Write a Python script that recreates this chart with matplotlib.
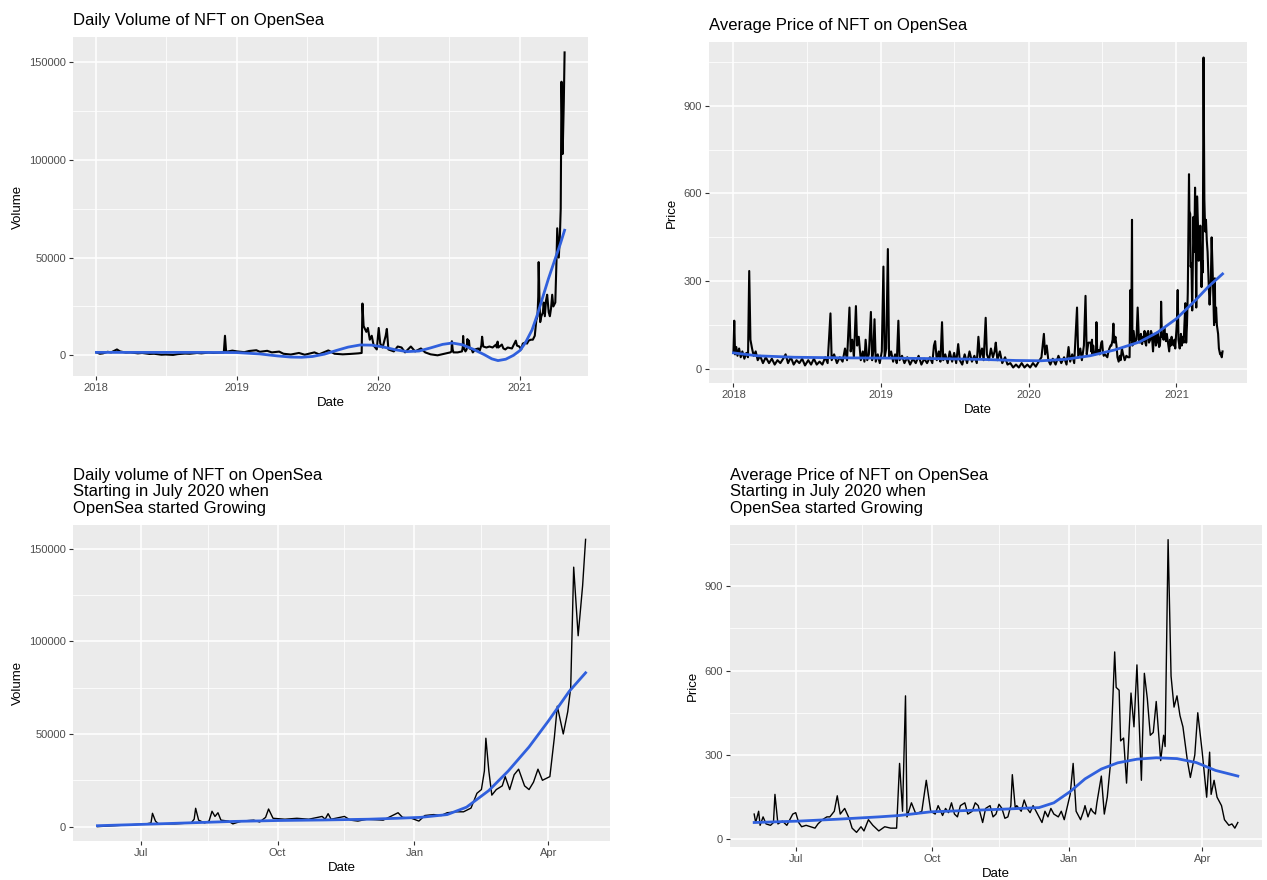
import matplotlib
matplotlib.use("Agg")
import matplotlib.pyplot as plt
import matplotlib.dates as mdates
from matplotlib.ticker import MultipleLocator, FuncFormatter
import pandas as pd

plt.rcParams['font.family'] = ['Liberation Sans', 'DejaVu Sans']

# --- daily volume, Jan 2018 - May 2020
vol_early_dates = ['2018-01-03', '2018-01-12', '2018-01-20', '2018-02-01', '2018-02-10',
                   '2018-02-25', '2018-03-05', '2018-03-20', '2018-04-01', '2018-04-20',
                   '2018-05-01', '2018-05-20', '2018-06-01', '2018-06-20', '2018-07-01',
                   '2018-07-20', '2018-08-01', '2018-08-20', '2018-09-01', '2018-09-20',
                   '2018-10-01', '2018-10-20', '2018-11-01', '2018-11-28', '2018-12-01',
                   '2018-12-04', '2018-12-20', '2019-01-01', '2019-01-20', '2019-02-01',
                   '2019-02-20', '2019-03-01', '2019-03-20', '2019-04-01', '2019-04-20',
                   '2019-05-01', '2019-05-20', '2019-06-10', '2019-06-25', '2019-07-01',
                   '2019-07-20', '2019-08-01', '2019-08-25', '2019-09-10', '2019-10-01',
                   '2019-10-20', '2019-11-10', '2019-11-19', '2019-11-21', '2019-11-24',
                   '2019-12-01', '2019-12-05', '2019-12-10', '2019-12-15', '2019-12-20',
                   '2019-12-28', '2020-01-02', '2020-01-06', '2020-01-12', '2020-01-20',
                   '2020-01-23', '2020-01-27', '2020-02-10', '2020-02-20', '2020-03-01',
                   '2020-03-10', '2020-03-25', '2020-04-05', '2020-04-20', '2020-05-01',
                   '2020-05-15']
vol_early = [1500, 800, 1000, 1800, 1500,
             3000, 2000, 1400, 1500, 1000,
             1200, 700, 800, 300, 400,
             200, 600, 900, 800, 1200,
             1000, 1400, 1200, 1500, 10000,
             1800, 2400, 2000, 1600, 2200,
             2600, 1800, 2300, 1500, 1900,
             800, 400, 1200, 300, 600,
             1500, 500, 2500, 800, 500,
             700, 1000, 1200, 26500, 15000,
             12000, 14000, 8000, 10000, 5000,
             3000, 14000, 6000, 4000, 10000,
             13500, 3000, 2000, 4500, 4000,
             1500, 4500, 2000, 3500, 1500,
             500]

# --- daily volume, June 2020 - April 2021
vol_recent_dates = ['2020-06-02', '2020-06-13', '2020-06-24', '2020-07-05', '2020-07-08',
                    '2020-07-09', '2020-07-11', '2020-07-13', '2020-07-24', '2020-08-04',
                    '2020-08-06', '2020-08-07', '2020-08-09', '2020-08-13', '2020-08-16',
                    '2020-08-18', '2020-08-20', '2020-08-22', '2020-08-24', '2020-08-29',
                    '2020-09-01', '2020-09-07', '2020-09-15', '2020-09-19', '2020-09-23',
                    '2020-09-25', '2020-09-28', '2020-10-06', '2020-10-14', '2020-10-22',
                    '2020-10-31', '2020-11-02', '2020-11-04', '2020-11-06', '2020-11-15',
                    '2020-11-19', '2020-11-24', '2020-11-30', '2020-12-11', '2020-12-16',
                    '2020-12-21', '2020-12-24', '2020-12-30', '2021-01-04', '2021-01-08',
                    '2021-01-14', '2021-01-19', '2021-01-23', '2021-01-29', '2021-02-03',
                    '2021-02-08', '2021-02-12', '2021-02-15', '2021-02-17', '2021-02-18',
                    '2021-02-20', '2021-02-22', '2021-02-25', '2021-03-01', '2021-03-03',
                    '2021-03-06', '2021-03-09', '2021-03-12', '2021-03-16', '2021-03-19',
                    '2021-03-22', '2021-03-25', '2021-03-28', '2021-04-02', '2021-04-05',
                    '2021-04-07', '2021-04-11', '2021-04-14', '2021-04-16', '2021-04-18',
                    '2021-04-21', '2021-04-24', '2021-04-26']
vol_recent = [0, 500, 1000, 1500, 2000,
              7200, 3000, 1500, 1500, 2000,
              4000, 9900, 3500, 2000, 3000,
              8300, 5500, 7500, 3500, 3000,
              1500, 3000, 3500, 2500, 5000,
              9500, 4500, 4000, 4500, 4000,
              5500, 4000, 7000, 4000, 5500,
              3500, 3000, 4000, 3500, 5500,
              7500, 5000, 4500, 3000, 6000,
              6500, 6000, 7500, 8000, 8000,
              10000, 18000, 20000, 30000, 47700,
              30000, 17000, 20000, 22000, 27000,
              20000, 28000, 31000, 22000, 20000,
              24000, 31000, 25000, 27000, 48000,
              65000, 50000, 62000, 75000, 140000,
              103000, 130000, 155000]

# --- loess fits for volume
vol_fit_all_dates = ['2018-01-03', '2018-04-01', '2018-07-01', '2018-10-01', '2019-01-01',
                     '2019-03-01', '2019-04-15', '2019-05-20', '2019-06-17', '2019-07-15',
                     '2019-08-15', '2019-09-15', '2019-10-15', '2019-11-15', '2019-12-15',
                     '2020-01-15', '2020-02-15', '2020-03-15', '2020-04-15', '2020-05-15',
                     '2020-06-15', '2020-07-10', '2020-08-05', '2020-09-01', '2020-10-01',
                     '2020-10-20', '2020-11-05', '2020-11-25', '2020-12-15', '2021-01-01',
                     '2021-01-15', '2021-02-01', '2021-02-15', '2021-03-01', '2021-03-15',
                     '2021-04-01', '2021-04-15', '2021-04-26']
vol_fit_all = [1500, 1500, 1500, 1500, 1400,
               700, -300, -900, -1000, -600,
               600, 2500, 4200, 5300, 5200,
               4200, 2800, 1900, 2200, 3800,
               5600, 6300, 5400, 3200, 300,
               -1800, -2700, -2000, 0, 2500,
               6500, 13000, 21000, 30000, 39000,
               49000, 57000, 64000]
vol_fit_recent_dates = ['2020-06-02', '2020-07-01', '2020-08-01', '2020-09-01', '2020-10-01',
                        '2020-11-01', '2020-12-01', '2020-12-20', '2021-01-05', '2021-01-23',
                        '2021-02-05', '2021-02-20', '2021-03-05', '2021-03-19', '2021-04-01',
                        '2021-04-15', '2021-04-26']
vol_fit_recent = [500, 1200, 2000, 2800, 3300,
                  3600, 4000, 4500, 5000, 6500,
                  10500, 19500, 30000, 43000, 57000,
                  73000, 83000]

# --- average price, Jan 2018 - May 2020
price_early_dates = ['2018-01-01', '2018-01-03', '2018-01-05', '2018-01-08', '2018-01-11',
                     '2018-01-15', '2018-01-19', '2018-01-23', '2018-01-28', '2018-02-02',
                     '2018-02-06', '2018-02-09', '2018-02-12', '2018-02-16', '2018-02-20',
                     '2018-02-25', '2018-03-02', '2018-03-08', '2018-03-15', '2018-03-22',
                     '2018-03-30', '2018-04-06', '2018-04-13', '2018-04-20', '2018-04-27',
                     '2018-05-04', '2018-05-10', '2018-05-16', '2018-05-23', '2018-05-30',
                     '2018-06-06', '2018-06-13', '2018-06-20', '2018-06-27', '2018-07-05',
                     '2018-07-12', '2018-07-19', '2018-07-26', '2018-08-02', '2018-08-09',
                     '2018-08-16', '2018-08-22', '2018-08-29', '2018-09-01', '2018-09-07',
                     '2018-09-14', '2018-09-21', '2018-09-28', '2018-10-04', '2018-10-09',
                     '2018-10-15', '2018-10-18', '2018-10-22', '2018-10-26', '2018-10-31',
                     '2018-11-03', '2018-11-07', '2018-11-12', '2018-11-17', '2018-11-21',
                     '2018-11-24', '2018-11-28', '2018-12-02', '2018-12-07', '2018-12-10',
                     '2018-12-13', '2018-12-16', '2018-12-19', '2018-12-24', '2018-12-29',
                     '2019-01-03', '2019-01-07', '2019-01-10', '2019-01-14', '2019-01-18',
                     '2019-01-21', '2019-01-26', '2019-01-31', '2019-02-05', '2019-02-09',
                     '2019-02-13', '2019-02-16', '2019-02-22', '2019-02-28', '2019-03-07',
                     '2019-03-14', '2019-03-21', '2019-03-28', '2019-04-04', '2019-04-11',
                     '2019-04-18', '2019-04-25', '2019-05-02', '2019-05-08', '2019-05-12',
                     '2019-05-15', '2019-05-19', '2019-05-24', '2019-05-28', '2019-06-01',
                     '2019-06-04', '2019-06-09', '2019-06-15', '2019-06-20', '2019-06-26',
                     '2019-07-01', '2019-07-06', '2019-07-11', '2019-07-15', '2019-07-21',
                     '2019-07-27', '2019-08-02', '2019-08-08', '2019-08-14', '2019-08-20',
                     '2019-08-26', '2019-08-30', '2019-09-03', '2019-09-08', '2019-09-12',
                     '2019-09-17', '2019-09-20', '2019-09-25', '2019-09-30', '2019-10-05',
                     '2019-10-09', '2019-10-12', '2019-10-16', '2019-10-22', '2019-10-28',
                     '2019-11-04', '2019-11-10', '2019-11-17', '2019-11-24', '2019-12-01',
                     '2019-12-08', '2019-12-15', '2019-12-22', '2019-12-29', '2020-01-05',
                     '2020-01-12', '2020-01-19', '2020-01-26', '2020-02-02', '2020-02-08',
                     '2020-02-11', '2020-02-15', '2020-02-19', '2020-02-24', '2020-03-01',
                     '2020-03-08', '2020-03-15', '2020-03-22', '2020-03-29', '2020-04-04',
                     '2020-04-09', '2020-04-13', '2020-04-18', '2020-04-23', '2020-04-30',
                     '2020-05-03', '2020-05-08', '2020-05-12', '2020-05-17', '2020-05-21',
                     '2020-05-24', '2020-05-28']
price_early = [60, 165, 50, 75, 45,
               70, 40, 60, 35, 55,
               40, 335, 100, 70, 45,
               60, 30, 45, 20, 40,
               20, 35, 15, 30, 20,
               35, 50, 20, 40, 15,
               30, 20, 35, 12, 30,
               15, 35, 15, 25, 15,
               40, 20, 190, 30, 50,
               20, 40, 25, 70, 30,
               210, 60, 100, 40, 215,
               80, 110, 30, 60, 25,
               100, 30, 50, 195, 30,
               60, 170, 25, 50, 20,
               60, 350, 40, 70, 410,
               40, 60, 25, 50, 20,
               165, 30, 45, 20, 40,
               15, 35, 20, 45, 15,
               35, 20, 40, 20, 80,
               95, 30, 60, 25, 160,
               30, 50, 20, 60, 25,
               55, 20, 85, 30, 15,
               50, 20, 60, 25, 45,
               20, 110, 40, 70, 30,
               175, 50, 30, 70, 40,
               60, 90, 30, 60, 20,
               40, 15, 20, 5, 15,
               5, 20, 5, 15, 5,
               20, 8, 25, 40, 120,
               50, 80, 30, 15, 35,
               15, 45, 20, 40, 15,
               75, 25, 50, 20, 210,
               40, 70, 30, 80, 250,
               50, 90]

# --- average price, June 2020 - April 2021
price_recent_dates = ['2020-06-03', '2020-06-04', '2020-06-06', '2020-06-07', '2020-06-09',
                      '2020-06-11', '2020-06-14', '2020-06-16', '2020-06-17', '2020-06-19',
                      '2020-06-22', '2020-06-25', '2020-06-29', '2020-07-01', '2020-07-03',
                      '2020-07-05', '2020-07-08', '2020-07-11', '2020-07-14', '2020-07-16',
                      '2020-07-19', '2020-07-22', '2020-07-24', '2020-07-27', '2020-07-29',
                      '2020-07-31', '2020-08-03', '2020-08-06', '2020-08-08', '2020-08-11',
                      '2020-08-14', '2020-08-16', '2020-08-19', '2020-08-22', '2020-08-26',
                      '2020-08-30', '2020-09-03', '2020-09-07', '2020-09-09', '2020-09-11',
                      '2020-09-13', '2020-09-14', '2020-09-17', '2020-09-20', '2020-09-24',
                      '2020-09-27', '2020-09-30', '2020-10-03', '2020-10-05', '2020-10-08',
                      '2020-10-10', '2020-10-12', '2020-10-14', '2020-10-16', '2020-10-18',
                      '2020-10-20', '2020-10-23', '2020-10-25', '2020-10-28', '2020-10-30',
                      '2020-11-01', '2020-11-04', '2020-11-06', '2020-11-09', '2020-11-11',
                      '2020-11-13', '2020-11-15', '2020-11-17', '2020-11-19', '2020-11-21',
                      '2020-11-23', '2020-11-24', '2020-11-26', '2020-11-27', '2020-11-30',
                      '2020-12-02', '2020-12-04', '2020-12-06', '2020-12-08', '2020-12-10',
                      '2020-12-12', '2020-12-14', '2020-12-16', '2020-12-18', '2020-12-20',
                      '2020-12-22', '2020-12-25', '2020-12-27', '2020-12-29', '2021-01-02',
                      '2021-01-04', '2021-01-06', '2021-01-08', '2021-01-09', '2021-01-11',
                      '2021-01-12', '2021-01-14', '2021-01-16', '2021-01-17', '2021-01-19',
                      '2021-01-20', '2021-01-23', '2021-01-25', '2021-01-27', '2021-01-29',
                      '2021-02-01', '2021-02-02', '2021-02-04', '2021-02-05', '2021-02-07',
                      '2021-02-09', '2021-02-12', '2021-02-14', '2021-02-16', '2021-02-19',
                      '2021-02-21', '2021-02-23', '2021-02-25', '2021-02-27', '2021-03-01',
                      '2021-03-04', '2021-03-06', '2021-03-07', '2021-03-09', '2021-03-11',
                      '2021-03-13', '2021-03-15', '2021-03-17', '2021-03-19', '2021-03-22',
                      '2021-03-24', '2021-03-27', '2021-03-29', '2021-04-01', '2021-04-04',
                      '2021-04-06', '2021-04-07', '2021-04-09', '2021-04-11', '2021-04-14',
                      '2021-04-16', '2021-04-19', '2021-04-21', '2021-04-23', '2021-04-25']
price_recent = [90, 60, 100, 50, 80,
                55, 50, 60, 160, 55,
                65, 50, 90, 95, 60,
                45, 50, 45, 40, 55,
                70, 80, 80, 100, 155,
                90, 110, 75, 40, 25,
                45, 30, 70, 50, 30,
                45, 40, 40, 270, 100,
                510, 80, 130, 90, 100,
                210, 100, 90, 120, 85,
                110, 95, 130, 90, 80,
                120, 130, 90, 100, 130,
                120, 60, 110, 120, 80,
                90, 125, 110, 75, 80,
                120, 230, 110, 120, 100,
                140, 110, 95, 120, 100,
                80, 60, 100, 80, 110,
                90, 80, 100, 70, 160,
                270, 100, 80, 70, 100,
                120, 80, 110, 100, 90,
                130, 225, 90, 150, 260,
                666, 540, 530, 350, 360,
                200, 520, 400, 620, 210,
                590, 500, 370, 380, 490,
                280, 370, 330, 1065, 580,
                470, 510, 440, 400, 280,
                220, 300, 450, 310, 150,
                310, 160, 210, 150, 120,
                70, 50, 55, 40, 60]

# --- loess fits for price
price_fit_all_dates = ['2018-01-01', '2018-03-01', '2018-06-01', '2018-10-01', '2019-02-01',
                       '2019-06-01', '2019-09-01', '2019-12-01', '2020-02-01', '2020-04-01',
                       '2020-06-01', '2020-08-01', '2020-10-01', '2020-11-15', '2021-01-01',
                       '2021-02-15', '2021-03-20', '2021-04-25']
price_fit_all = [55, 45, 40, 38, 37,
                 35, 33, 29, 28, 33,
                 45, 65, 92, 125, 172,
                 232, 280, 325]
price_fit_recent_dates = ['2020-06-03', '2020-07-03', '2020-07-30', '2020-08-26', '2020-09-09',
                          '2020-09-30', '2020-11-16', '2020-12-12', '2020-12-22', '2021-01-02',
                          '2021-01-12', '2021-01-23', '2021-02-03', '2021-02-16', '2021-03-01',
                          '2021-03-15', '2021-03-28', '2021-04-10', '2021-04-25']
price_fit_recent = [60, 65, 72, 80, 85,
                    98, 107, 113, 130, 170,
                    215, 250, 272, 285, 290,
                    287, 273, 245, 225]

W, H = 1267, 880
fig = plt.figure(figsize=(W / 100, H / 100), dpi=100)


def panel(left, top, right, bottom):
    return fig.add_axes([left / W, 1 - bottom / H, (right - left) / W, (bottom - top) / H])


def style(ax, years):
    ax.set_facecolor('#EBEBEB')
    for s in ax.spines.values():
        s.set_visible(False)
    ax.grid(which='major', color='white', linewidth=1.1)
    ax.grid(which='minor', color='white', linewidth=0.55)
    ax.set_axisbelow(True)
    ax.tick_params(which='major', length=3, width=0.8, color='#333333',
                   labelcolor='#4D4D4D', labelsize=8, pad=2)
    ax.tick_params(which='minor', length=0)
    ax.margins(x=0.05, y=0.05)
    if years:
        ax.xaxis.set_major_locator(mdates.YearLocator())
        ax.xaxis.set_major_formatter(mdates.DateFormatter('%Y'))
        ax.xaxis.set_minor_locator(mdates.MonthLocator(bymonth=7))
    else:
        ax.xaxis.set_major_locator(mdates.MonthLocator(bymonth=[1, 4, 7, 10]))
        ax.xaxis.set_major_formatter(mdates.DateFormatter('%b'))
        ax.xaxis.set_minor_locator(mdates.MonthLocator(bymonth=[2, 5, 8, 11], bymonthday=15))
    ax.yaxis.set_major_formatter(FuncFormatter(lambda v, p: '%d' % v))
    ax.set_xlabel('Date', fontsize=9.5, labelpad=3)


d = pd.to_datetime
blue = '#3060DD'

# top left: full volume history
ax1 = panel(73, 37, 588, 376)
ax1.plot(d(vol_early_dates + vol_recent_dates), vol_early + vol_recent, color='black', lw=1.5)
ax1.plot(d(vol_fit_all_dates), vol_fit_all, color=blue, lw=2)
style(ax1, True)
ax1.yaxis.set_major_locator(MultipleLocator(50000))
ax1.yaxis.set_minor_locator(MultipleLocator(25000))
ax1.set_ylabel('Volume', fontsize=9.5)
ax1.set_title('Daily Volume of NFT on OpenSea', loc='left', fontsize=12, pad=9)

# top right: full price history
ax2 = panel(709, 42, 1247, 383)
ax2.plot(d(price_early_dates + price_recent_dates), price_early + price_recent, color='black', lw=1.5)
ax2.plot(d(price_fit_all_dates), price_fit_all, color=blue, lw=2)
style(ax2, True)
ax2.yaxis.set_major_locator(MultipleLocator(300))
ax2.yaxis.set_minor_locator(MultipleLocator(150))
ax2.set_ylabel('Price', fontsize=9.5)
ax2.set_title('Average Price of NFT on OpenSea', loc='left', fontsize=12, pad=9)

# bottom left: volume since mid 2020
ax3 = panel(73, 525, 610, 841)
ax3.plot(d(vol_recent_dates), vol_recent, color='black', lw=1.0)
ax3.plot(d(vol_fit_recent_dates), vol_fit_recent, color=blue, lw=2)
style(ax3, False)
ax3.yaxis.set_major_locator(MultipleLocator(50000))
ax3.yaxis.set_minor_locator(MultipleLocator(25000))
ax3.set_ylabel('Volume', fontsize=9.5)
ax3.set_title('Daily volume of NFT on OpenSea\nStarting in July 2020 when\nOpenSea started Growing',
              loc='left', fontsize=12, pad=9, linespacing=1.1)

# bottom right: price since mid 2020
ax4 = panel(730, 525, 1262, 847)
ax4.plot(d(price_recent_dates), price_recent, color='black', lw=1.0)
ax4.plot(d(price_fit_recent_dates), price_fit_recent, color=blue, lw=2)
style(ax4, False)
ax4.yaxis.set_major_locator(MultipleLocator(300))
ax4.yaxis.set_minor_locator(MultipleLocator(150))
ax4.set_ylabel('Price', fontsize=9.5)
ax4.set_title('Average Price of NFT on OpenSea\nStarting in July 2020 when\nOpenSea started Growing',
              loc='left', fontsize=12, pad=9, linespacing=1.1)

fig.savefig('out.png', dpi=100)
